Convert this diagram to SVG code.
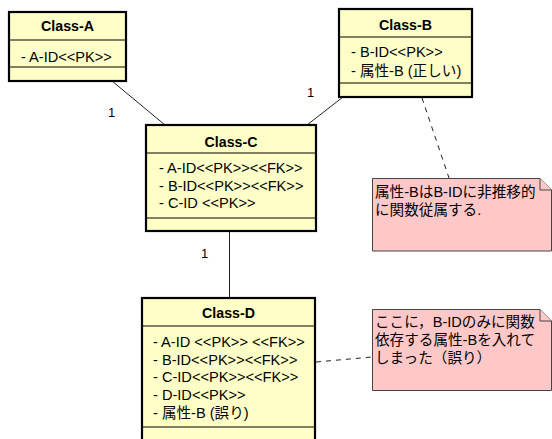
<svg xmlns="http://www.w3.org/2000/svg" width="552" height="439" viewBox="0 0 552 439">
  <style>
    .box { fill: #FFFFC8; stroke: #000; stroke-width: 2.2; }
    .div { stroke: #000; stroke-width: 1; }
    .title { font-family: "Liberation Sans", "Noto Sans CJK JP", sans-serif; font-size: 14.2px; font-weight: bold; text-anchor: middle; fill: #000; }
    .attr { font-family: "Liberation Sans", "Noto Sans CJK JP", sans-serif; font-size: 14.6px; fill: #000; }
    .note { fill: #FFC8C8; stroke: #444; stroke-width: 1; }
    .edge { stroke: #222; stroke-width: 1; fill: none; }
    .dash { stroke: #222; stroke-width: 1; fill: none; stroke-dasharray: 5 5; }
    .mult { font-family: "Liberation Sans", sans-serif; font-size: 13px; fill: #000; }
  </style>

  <g id="connectors">
    <line class="edge" x1="112" y1="81" x2="165" y2="125"/>
    <line class="edge" x1="343" y1="97" x2="307" y2="125"/>
    <line class="edge" x1="229.5" y1="231" x2="229.5" y2="298"/>
    <line class="dash" x1="422" y1="98" x2="449" y2="178"/>
    <line class="dash" x1="316" y1="362" x2="372" y2="357"/>
    <text class="mult" x="108" y="117">1</text>
    <text class="mult" x="307" y="97">1</text>
    <text class="mult" x="201" y="258">1</text>
  </g>

  <g id="class-a">
    <rect class="box" x="9" y="12" width="117" height="69"/>
    <line class="div" x1="9" y1="40" x2="126" y2="40"/>
    <line class="div" x1="9" y1="67" x2="126" y2="67"/>
    <text class="title" x="67.5" y="31">Class-A</text>
    <text class="attr" x="21" y="62">- A-ID&lt;&lt;PK&gt;&gt;</text>
  </g>

  <g id="class-b">
    <rect class="box" x="339" y="9" width="133" height="88"/>
    <line class="div" x1="339" y1="37" x2="472" y2="37"/>
    <line class="div" x1="339" y1="83" x2="472" y2="83"/>
    <text class="title" x="405.5" y="30">Class-B</text>
    <text class="attr" x="351" y="56.5">- B-ID&lt;&lt;PK&gt;&gt;</text>
    <text class="attr" x="351" y="75.5">- 属性-B (正しい)</text>
  </g>

  <g id="class-c">
    <rect class="box" x="146" y="125" width="170" height="106"/>
    <line class="div" x1="146" y1="153" x2="316" y2="153"/>
    <line class="div" x1="146" y1="218" x2="316" y2="218"/>
    <text class="title" x="231" y="146.5">Class-C</text>
    <text class="attr" x="159" y="173">- A-ID&lt;&lt;PK&gt;&gt;&lt;&lt;FK&gt;&gt;</text>
    <text class="attr" x="159" y="190.5">- B-ID&lt;&lt;PK&gt;&gt;&lt;&lt;FK&gt;&gt;</text>
    <text class="attr" x="159" y="208">- C-ID &lt;&lt;PK&gt;&gt;</text>
  </g>

  <g id="class-d">
    <rect class="box" x="142" y="298" width="173" height="150"/>
    <line class="div" x1="142" y1="326" x2="315" y2="326"/>
    <line class="div" x1="142" y1="427" x2="315" y2="427"/>
    <text class="title" x="228.5" y="318">Class-D</text>
    <text class="attr" x="153" y="347">- A-ID &lt;&lt;PK&gt;&gt; &lt;&lt;FK&gt;&gt;</text>
    <text class="attr" x="153" y="364.5">- B-ID&lt;&lt;PK&gt;&gt;&lt;&lt;FK&gt;&gt;</text>
    <text class="attr" x="153" y="382">- C-ID&lt;&lt;PK&gt;&gt;&lt;&lt;FK&gt;&gt;</text>
    <text class="attr" x="153" y="400">- D-ID&lt;&lt;PK&gt;&gt;</text>
    <text class="attr" x="153" y="418">- 属性-B (誤り)</text>
  </g>

  <g id="note-1">
    <path class="note" d="M372.5 178.5 H540 L551.5 190 V251 H372.5 Z"/>
    <path class="note" d="M540 178.5 V190 H551.5"/>
    <text class="attr" x="375" y="196.5">属性-BはB-IDに非推移的</text>
    <text class="attr" x="375" y="215">に関数従属する.</text>
  </g>

  <g id="note-2">
    <path class="note" d="M372.5 309.5 H540 L551.5 321 V390.5 H372.5 Z"/>
    <path class="note" d="M540 309.5 V321 H551.5"/>
    <text class="attr" x="375" y="327">ここに，B-IDのみに関数</text>
    <text class="attr" x="375" y="345">依存する属性-Bを入れて</text>
    <text class="attr" x="375" y="363">しまった（誤り）</text>
  </g>
</svg>
